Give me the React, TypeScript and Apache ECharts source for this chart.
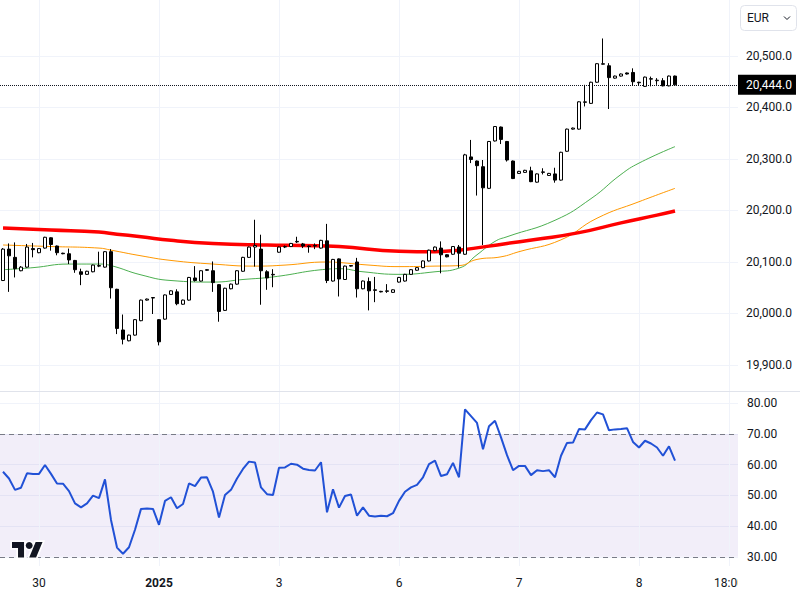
import React, { useEffect, useRef } from 'react';
import * as echarts from 'echarts';

// ---------- data ----------
const categoryCount = 123;
const tickIndices = [6, 26, 46, 66, 86, 106, 121];
const tickLabels = ['30', '2025', '3', '6', '7', '8', '18:00'];

// [open, close, low, high]
const candles = [
  [20064, 20125, 20063, 20127], [20125, 20112, 20042, 20136], [20109, 20087, 20070, 20138], [20083, 20090, 20082, 20092],
  [20090, 20129, 20089, 20135], [20126, 20124, 20109, 20137], [20118, 20126, 20117, 20127], [20127, 20148, 20126, 20149],
  [20147, 20134, 20122, 20148], [20131, 20118, 20113, 20132], [20117, 20116, 20115, 20118], [20116, 20104, 20096, 20126],
  [20103, 20085, 20079, 20104], [20081, 20076, 20055, 20087], [20076, 20082, 20075, 20083], [20081, 20094, 20080, 20095],
  [20092, 20093, 20090, 20120], [20090, 20120, 20089, 20121], [20120, 20050, 20029, 20125], [20047, 19971, 19960, 20048],
  [19968, 19950, 19940, 19998], [19947, 19958, 19946, 19959], [19958, 19988, 19957, 19989], [19986, 20026, 19985, 20027],
  [20026, 20028, 20025, 20029], [20030, 20031, 19999, 20032], [19988, 19945, 19938, 19989], [19989, 20036, 19988, 20037],
  [20037, 20044, 20036, 20045], [20042, 20019, 20016, 20047], [20018, 20026, 20017, 20027], [20026, 20070, 20025, 20071],
  [20069, 20064, 20062, 20092], [20063, 20083, 20062, 20084], [20085, 20084, 20083, 20086], [20083, 20060, 20042, 20101],
  [20056, 20004, 19984, 20057], [20006, 20049, 20005, 20050], [20048, 20057, 20047, 20058], [20057, 20083, 20056, 20084],
  [20082, 20109, 20081, 20110], [20109, 20129, 20108, 20130], [20129, 20132, 20091, 20182], [20125, 20083, 20017, 20153],
  [20081, 20069, 20046, 20084], [20075, 20076, 20051, 20086], [20119, 20129, 20118, 20130], [20129, 20130, 20127, 20132],
  [20130, 20136, 20129, 20137], [20139, 20140, 20137, 20149], [20135, 20131, 20127, 20137], [20131, 20130, 20118, 20132],
  [20132, 20131, 20125, 20136], [20127, 20142, 20126, 20143], [20141, 20064, 20059, 20174], [20063, 20105, 20062, 20106],
  [20106, 20067, 20033, 20107], [20066, 20092, 20065, 20093], [20093, 20092, 20091, 20094], [20100, 20048, 20031, 20108],
  [20048, 20063, 20047, 20064], [20062, 20044, 20006, 20070], [20046, 20045, 20022, 20071], [20043, 20042, 20041, 20044],
  [20043, 20044, 20040, 20057], [20041, 20046, 20040, 20047], [20061, 20070, 20060, 20071], [20063, 20076, 20062, 20077],
  [20076, 20085, 20075, 20086], [20084, 20089, 20083, 20090], [20089, 20102, 20088, 20103], [20102, 20123, 20101, 20124],
  [20122, 20129, 20121, 20130], [20127, 20114, 20078, 20140], [20114, 20110, 20109, 20115], [20115, 20130, 20114, 20131],
  [20129, 20117, 20089, 20133], [20115, 20308, 20114, 20310], [20304, 20299, 20292, 20337], [20296, 20287, 20229, 20297],
  [20285, 20244, 20133, 20298], [20243, 20334, 20242, 20335], [20335, 20363, 20334, 20364], [20362, 20338, 20329, 20363],
  [20334, 20298, 20295, 20335], [20296, 20262, 20261, 20297], [20272, 20276, 20271, 20277], [20274, 20278, 20273, 20279],
  [20277, 20256, 20255, 20285], [20255, 20271, 20254, 20272], [20274, 20275, 20270, 20282], [20268, 20272, 20267, 20273],
  [20271, 20259, 20254, 20283], [20259, 20313, 20258, 20314], [20315, 20358, 20314, 20359], [20358, 20360, 20357, 20361],
  [20358, 20411, 20357, 20412], [20410, 20411, 20402, 20444], [20408, 20449, 20407, 20450], [20449, 20485, 20448, 20486],
  [20484, 20485, 20483, 20534], [20481, 20458, 20397, 20486], [20457, 20461, 20456, 20462], [20461, 20465, 20460, 20466],
  [20467, 20465, 20464, 20468], [20468, 20450, 20442, 20476], [20449, 20448, 20443, 20450], [20441, 20459, 20440, 20460],
  [20455, 20456, 20441, 20460], [20452, 20453, 20444, 20457], [20452, 20442, 20441, 20457], [20442, 20461, 20441, 20462],
  [20461, 20444, 20443, 20462],
];

// moving averages as [barIndex, value]
const maGreen = [
  [0, 20085], [5, 20089], [11, 20096], [16, 20096], [18, 20093], [23, 20075], [28, 20064], [35, 20061],
  [40, 20066], [45, 20071], [54, 20086], [56, 20087], [60, 20081], [66, 20076], [72, 20081], [76, 20088],
  [79, 20114], [82, 20140], [84, 20149], [92, 20181], [98, 20223], [103, 20270], [106, 20292], [112, 20324],
];
const maOrange = [
  [0, 20133], [8, 20130], [16, 20127], [18, 20123], [23, 20112], [28, 20103], [35, 20096], [42, 20092],
  [47, 20094], [54, 20100], [56, 20099], [61, 20094], [66, 20091], [72, 20092], [76, 20093], [79, 20105],
  [83, 20110], [86, 20120], [93, 20143], [99, 20185], [106, 20217], [112, 20243],
];
const maRed = [
  [0, 20166], [8, 20162], [16, 20158], [19, 20154], [23, 20149], [28, 20142], [35, 20136], [44, 20133],
  [50, 20132], [56, 20130], [66, 20121], [72, 20120], [76, 20123], [84, 20136], [89, 20144], [96, 20157],
  [103, 20176], [109, 20191], [112, 20199],
];

const rsi = [
  57.7, 55.5, 51.8, 52.5, 57.2, 57.0, 57.0, 59.9, 57.0, 53.9, 53.8, 51.4, 47.4, 46.1, 47.4, 49.9,
  49.1, 55.2, 42.0, 33.0, 31.0, 33.1, 38.8, 45.6, 45.7, 45.6, 40.4, 48.2, 49.4, 45.8, 47.2, 53.9,
  53.0, 55.8, 55.9, 51.2, 42.8, 50.1, 51.8, 55.5, 58.6, 61.0, 60.7, 52.6, 50.4, 50.1, 59.0, 59.1,
  60.3, 60.0, 58.7, 58.3, 58.1, 60.8, 44.5, 52.0, 46.0, 49.8, 50.3, 43.4, 46.1, 43.4, 43.1, 43.4,
  43.2, 44.2, 48.2, 51.2, 52.6, 53.4, 55.9, 60.2, 61.3, 56.3, 56.9, 60.6, 55.9, 78.0, 75.8, 73.6,
  65.0, 72.5, 74.3, 68.9, 63.1, 58.2, 59.6, 59.6, 56.6, 58.2, 57.9, 58.2, 55.9, 62.9, 67.1, 67.2,
  71.6, 71.5, 74.5, 77.0, 76.4, 71.2, 71.5, 71.6, 71.9, 67.4, 65.6, 67.8, 66.9, 65.6, 62.9, 66.0,
  61.3,
];

const priceTicks = [19900, 20000, 20100, 20200, 20300, 20400, 20500];
const rsiTicks = [30, 40, 50, 60, 70, 80];
const lastPrice = 20444;
const rsiUpper = 70;
const rsiLower = 30;
const currency = 'EUR';

// ---------- shapes ----------
const TV_LOGO_PATH = 'M14 22H7V11H0V4h14v18zM28 22h-8l7.5-18h8L28 22z';
let logoRegistered = false;
function registerLogo() {
  if (logoRegistered) return;
  echarts.graphic.registerShape('tvlogo', echarts.graphic.extendPath(TV_LOGO_PATH, {}));
  logoRegistered = true;
}

const FONT = 'Roboto, "Noto Sans", "Liberation Sans", sans-serif';
const TEXT = '#131722';
const GRIDC = '#f0f3fa';

export default function App() {
  const ref = useRef<HTMLDivElement>(null);

  useEffect(() => {
    if (!ref.current) return;
    registerLogo();
    const chart = echarts.init(ref.current, undefined, { renderer: 'svg' });
    const categories = Array.from({ length: categoryCount }, (_, i) => String(i));
    const fmtPrice = (v: number) =>
      v.toLocaleString('en-US', { minimumFractionDigits: 1, maximumFractionDigits: 1 });

    const vLines = tickIndices.map((i) => ({
      xAxis: i,
      lineStyle: { color: GRIDC, width: 1, type: 'solid' },
      label: { show: false },
    }));

    const option: any = {
      animation: false,
      textStyle: { fontFamily: FONT },
      grid: [
        { left: 0, top: 0, width: 738, height: 391 },
        { left: 0, top: 391, width: 738, height: 175 },
      ],
      xAxis: [
        {
          type: 'category', gridIndex: 0, data: categories, boundaryGap: true,
          axisLine: { show: false }, axisTick: { show: false }, axisLabel: { show: false }, splitLine: { show: false },
        },
        {
          type: 'category', gridIndex: 1, data: categories, boundaryGap: true,
          axisLine: { show: false }, axisTick: { show: false }, splitLine: { show: false },
          axisLabel: {
            interval: (i: number) => tickIndices.includes(i),
            formatter: (_v: string, i: number) => {
              const k = tickIndices.indexOf(i);
              if (k < 0) return '';
              const t = tickLabels[k];
              return t === '2025' ? '{b|' + t + '}' : t;
            },
            color: TEXT, fontSize: 12, margin: 11, fontFamily: FONT,
            rich: { b: { fontWeight: 'bold', fontSize: 12, color: TEXT, fontFamily: FONT } },
          },
        },
      ],
      yAxis: [
        {
          type: 'value', gridIndex: 0, position: 'right', min: 19849.5, max: 20608.7,
          axisLine: { show: false },
          axisTick: { show: false, customValues: priceTicks },
          axisLabel: { customValues: priceTicks, formatter: fmtPrice, color: TEXT, fontSize: 12, margin: 8, fontFamily: FONT },
          splitLine: { show: true, customValues: priceTicks, lineStyle: { color: GRIDC, width: 1 } },
        },
        {
          type: 'value', gridIndex: 1, position: 'right', min: 27, max: 84,
          axisLine: { show: false },
          axisTick: { show: false, customValues: rsiTicks },
          axisLabel: { customValues: rsiTicks, formatter: (v: number) => v.toFixed(2), color: TEXT, fontSize: 12, margin: 9, fontFamily: FONT },
          splitLine: { show: true, customValues: rsiTicks, lineStyle: { color: GRIDC, width: 1 } },
        },
      ],
      series: [
        {
          type: 'line', name: 'MA green', xAxisIndex: 0, yAxisIndex: 0, data: maGreen,
          smooth: true, symbol: 'none', silent: true, z: 6,
          lineStyle: { color: '#4caf50', width: 1 },
          markLine: {
            silent: true, symbol: 'none', animation: false,
            label: { show: false },
            data: [
              ...vLines,
              {
                yAxis: lastPrice,
                lineStyle: { color: '#131722', width: 1, type: 'dotted' },
                label: {
                  show: true, position: 'end', distance: 0,
                  formatter: fmtPrice(lastPrice),
                  backgroundColor: '#000000', color: '#ffffff',
                  fontSize: 12, fontFamily: FONT, padding: [4, 4, 3, 8], lineHeight: 13,
                },
              },
            ],
          },
        },
        {
          type: 'line', name: 'MA orange', xAxisIndex: 0, yAxisIndex: 0, data: maOrange,
          smooth: true, symbol: 'none', silent: true, z: 7,
          lineStyle: { color: '#ff9800', width: 1 },
        },
        {
          type: 'line', name: 'MA red', xAxisIndex: 0, yAxisIndex: 0, data: maRed,
          smooth: true, symbol: 'none', silent: true, z: 8,
          lineStyle: { color: '#ff0000', width: 3.5 },
        },
        {
          type: 'candlestick', name: 'Price', xAxisIndex: 0, yAxisIndex: 0, data: candles,
          barWidth: 4, silent: true, z: 10,
          itemStyle: {
            color: '#ffffff', color0: '#000000',
            borderColor: '#000000', borderColor0: '#000000', borderWidth: 1,
          },
        },
        {
          type: 'line', name: 'RSI', xAxisIndex: 1, yAxisIndex: 1, data: rsi,
          symbol: 'none', silent: true, z: 10,
          lineStyle: { color: '#2151d6', width: 2 },
          markArea: {
            silent: true,
            itemStyle: { color: 'rgba(126,87,194,0.1)' },
            data: [[{ yAxis: rsiUpper }, { yAxis: rsiLower }]],
          },
          markLine: {
            silent: true, symbol: 'none', animation: false,
            label: { show: false },
            data: [
              ...vLines,
              { yAxis: rsiUpper, lineStyle: { color: '#787b86', width: 1, type: [5, 4] } },
              { yAxis: rsiLower, lineStyle: { color: '#787b86', width: 1, type: [5, 4] } },
            ],
          },
        },
      ],
      graphic: [
        { type: 'line', shape: { x1: 0, y1: 391.5, x2: 800, y2: 391.5 }, style: { stroke: '#e0e3eb', lineWidth: 1 }, z: 50, silent: true },
        { type: 'rect', shape: { x: 738, y: 568, width: 62, height: 32 }, style: { fill: '#ffffff' }, z: 60, silent: true },
        {
          type: 'rect', shape: { x: 740.5, y: 5.5, width: 56, height: 25, r: 4 },
          style: { fill: '#ffffff', stroke: '#e0e3eb', lineWidth: 1 }, z: 60, silent: true,
        },
        {
          type: 'text', x: 747, y: 18, z: 61, silent: true,
          style: { text: currency, fill: TEXT, fontSize: 12, fontFamily: FONT, verticalAlign: 'middle', align: 'left' },
        },
        {
          type: 'polyline', shape: { points: [[784, 16.5], [787, 19.5], [790, 16.5]] },
          style: { stroke: TEXT, lineWidth: 1, fill: 'none' }, z: 61, silent: true,
        },
        {
          type: 'tvlogo', x: 12, y: 538.6, scaleX: 0.86, scaleY: 0.86, z: 70, silent: true,
          style: { fill: '#ffffff', stroke: '#ffffff', lineWidth: 4 },
        },
        {
          type: 'circle', shape: { cx: 12 + 20 * 0.86, cy: 538.6 + 8 * 0.86, r: 4 * 0.86 + 1.5 },
          style: { fill: '#ffffff' }, z: 70, silent: true,
        },
        {
          type: 'tvlogo', x: 12, y: 538.6, scaleX: 0.86, scaleY: 0.86, z: 71, silent: true,
          style: { fill: TEXT },
        },
        {
          type: 'circle', shape: { cx: 12 + 20 * 0.86, cy: 538.6 + 8 * 0.86, r: 4 * 0.86 },
          style: { fill: TEXT }, z: 71, silent: true,
        },
      ],
    };

    chart.setOption(option);
    return () => chart.dispose();
  }, []);

  return (
    <div
      ref={ref}
      style={{ position: 'absolute', left: 0, top: 0, width: 800, height: 600, background: '#ffffff' }}
    />
  );
}
